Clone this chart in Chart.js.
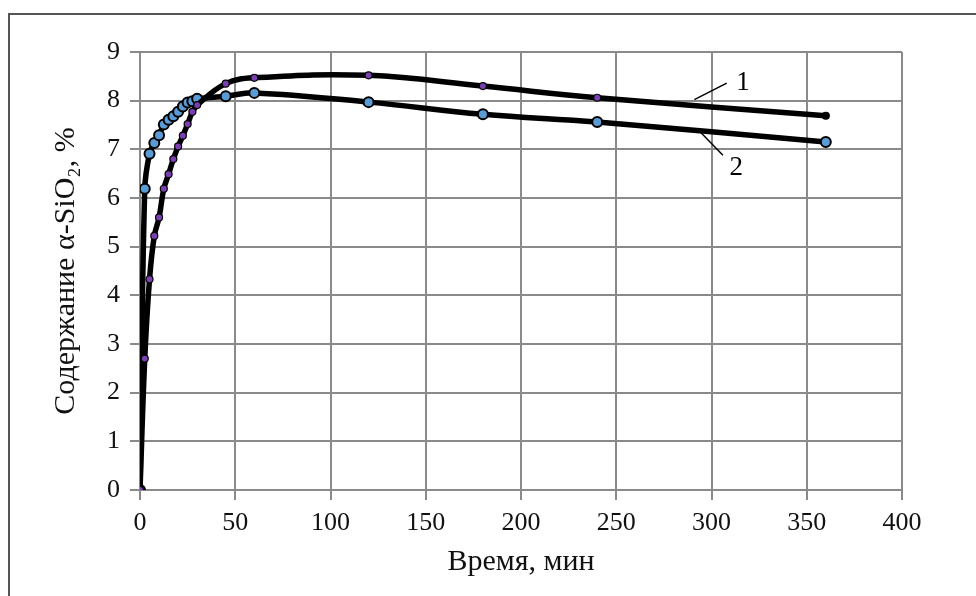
<!DOCTYPE html>
<html lang="ru">
<head>
<meta charset="utf-8">
<title>Содержание α-SiO2</title>
<script src="https://cdn.jsdelivr.net/npm/chart.js@4/dist/chart.umd.min.js"></script>
<style>
  html, body { margin: 0; padding: 0; background: #fff; }
  #wrap { width: 976px; height: 596px; position: relative; }
</style>
</head>
<body>
<div id="wrap"><canvas id="chart" width="976" height="596"></canvas></div>
<script>
/* ─────────────────────────────────────────
   DATOS
───────────────────────────────────────── */
const tiempo = [0, 2.5, 5, 7.5, 10, 12.5, 15, 17.5, 20, 22.5, 25, 27.5, 30, 45, 60, 120, 180, 240, 360];
const serie1 = [0, 2.70, 4.33, 5.22, 5.60, 6.19, 6.49, 6.80, 7.06, 7.28, 7.52, 7.77, 7.91, 8.35, 8.47, 8.52, 8.30, 8.06, 7.69];
const serie2 = [0, 6.19, 6.91, 7.13, 7.29, 7.51, 7.61, 7.68, 7.77, 7.88, 7.96, 7.99, 8.04, 8.09, 8.16, 7.97, 7.72, 7.56, 7.15];

const xTicks = [0, 50, 100, 150, 200, 250, 300, 350, 400];
const yTicks = [0, 1, 2, 3, 4, 5, 6, 7, 8, 9];

// etiquetas "1" y "2" con su línea guía (en coordenadas de datos)
const etiquetas = [
  { texto: "1", desde: [291, 8.02], hasta: [308, 8.36], pos: [316.5, 8.36] },
  { texto: "2", desde: [294, 7.36], hasta: [306, 6.88], pos: [313, 6.62] },
];

const FONT = "'Liberation Serif', 'Times New Roman', serif";
const GRID = "#8a8a8a";

const toPts = (ys) => tiempo.map((t, i) => ({ x: t, y: ys[i] }));

/* ─────────────────────────────────────────
   PLUGINS
───────────────────────────────────────── */
const marco = {
  id: "marco",
  beforeDraw(chart) {
    const c = chart.ctx;
    c.save();
    c.fillStyle = "#fff";
    c.fillRect(0, 0, chart.width, chart.height);
    c.strokeStyle = "#555";
    c.lineWidth = 2;
    c.beginPath();
    c.moveTo(976, 14);
    c.lineTo(9, 14);
    c.lineTo(9, 596);
    c.stroke();
    c.restore();
  }
};

const rotulos = {
  id: "rotulos",
  afterDatasetsDraw(chart) {
    const c = chart.ctx;
    const sx = chart.scales.x, sy = chart.scales.y;
    c.save();
    c.strokeStyle = "#000";
    c.lineWidth = 1.5;
    c.fillStyle = "#000";
    c.font = "27px " + FONT;
    c.textAlign = "center";
    c.textBaseline = "middle";
    etiquetas.forEach(e => {
      c.beginPath();
      c.moveTo(sx.getPixelForValue(e.desde[0]), sy.getPixelForValue(e.desde[1]));
      c.lineTo(sx.getPixelForValue(e.hasta[0]), sy.getPixelForValue(e.hasta[1]));
      c.stroke();
      c.fillText(e.texto, sx.getPixelForValue(e.pos[0]), sy.getPixelForValue(e.pos[1]));
    });
    c.restore();
  }
};

/* ─────────────────────────────────────────
   GRÁFICO
───────────────────────────────────────── */
new Chart(document.getElementById("chart"), {
  type: "scatter",
  data: {
    datasets: [
      {
        label: "1",
        data: toPts(serie1),
        showLine: true,
        borderColor: "#000",
        borderWidth: 5.5,
        tension: 0.4,
        pointRadius: 3.5,
        pointBorderWidth: 1.2,
        pointBorderColor: "#000",
        pointBackgroundColor: ctx => ctx.dataIndex === tiempo.length - 1 ? "#000" : "#7a3fb0",
      },
      {
        label: "2",
        data: toPts(serie2),
        showLine: true,
        borderColor: "#000",
        borderWidth: 5.5,
        tension: 0.4,
        pointRadius: 5,
        pointBorderWidth: 2,
        pointBorderColor: "#000",
        pointBackgroundColor: "#5b9bd5",
      }
    ]
  },
  options: {
    responsive: false,
    animation: false,
    layout: { padding: { left: 48, top: 52, right: 74, bottom: 16 } },
    plugins: {
      legend: { display: false },
      tooltip: { enabled: false },
    },
    scales: {
      x: {
        type: "linear",
        min: 0, max: 400,
        afterBuildTicks: s => { s.ticks = xTicks.map(v => ({ value: v })); },
        afterFit: s => { s.height = 596 - 16 - 490; },
        grid: { color: GRID, lineWidth: 2, tickLength: 10, drawTicks: true },
        border: { color: GRID, width: 2 },
        ticks: { color: "#111", font: { family: FONT, size: 26 }, padding: 8, maxRotation: 0 },
        title: { display: true, text: "Время, мин", color: "#111", font: { family: FONT, size: 30 }, padding: { top: 0, bottom: 0 } }
      },
      y: {
        type: "linear",
        min: 0, max: 9,
        afterBuildTicks: s => { s.ticks = yTicks.map(v => ({ value: v })); },
        afterFit: s => { s.width = 140 - 48; },
        grid: { color: GRID, lineWidth: 2, tickLength: 10, drawTicks: true },
        border: { color: GRID, width: 2 },
        ticks: { color: "#111", font: { family: FONT, size: 26 }, padding: 10 },
        title: { display: true, text: "Содержание α-SiO₂, %", color: "#111", font: { family: FONT, size: 30 }, padding: { top: 0, bottom: 0 } }
      }
    }
  },
  plugins: [marco, rotulos]
});
</script>
</body>
</html>
